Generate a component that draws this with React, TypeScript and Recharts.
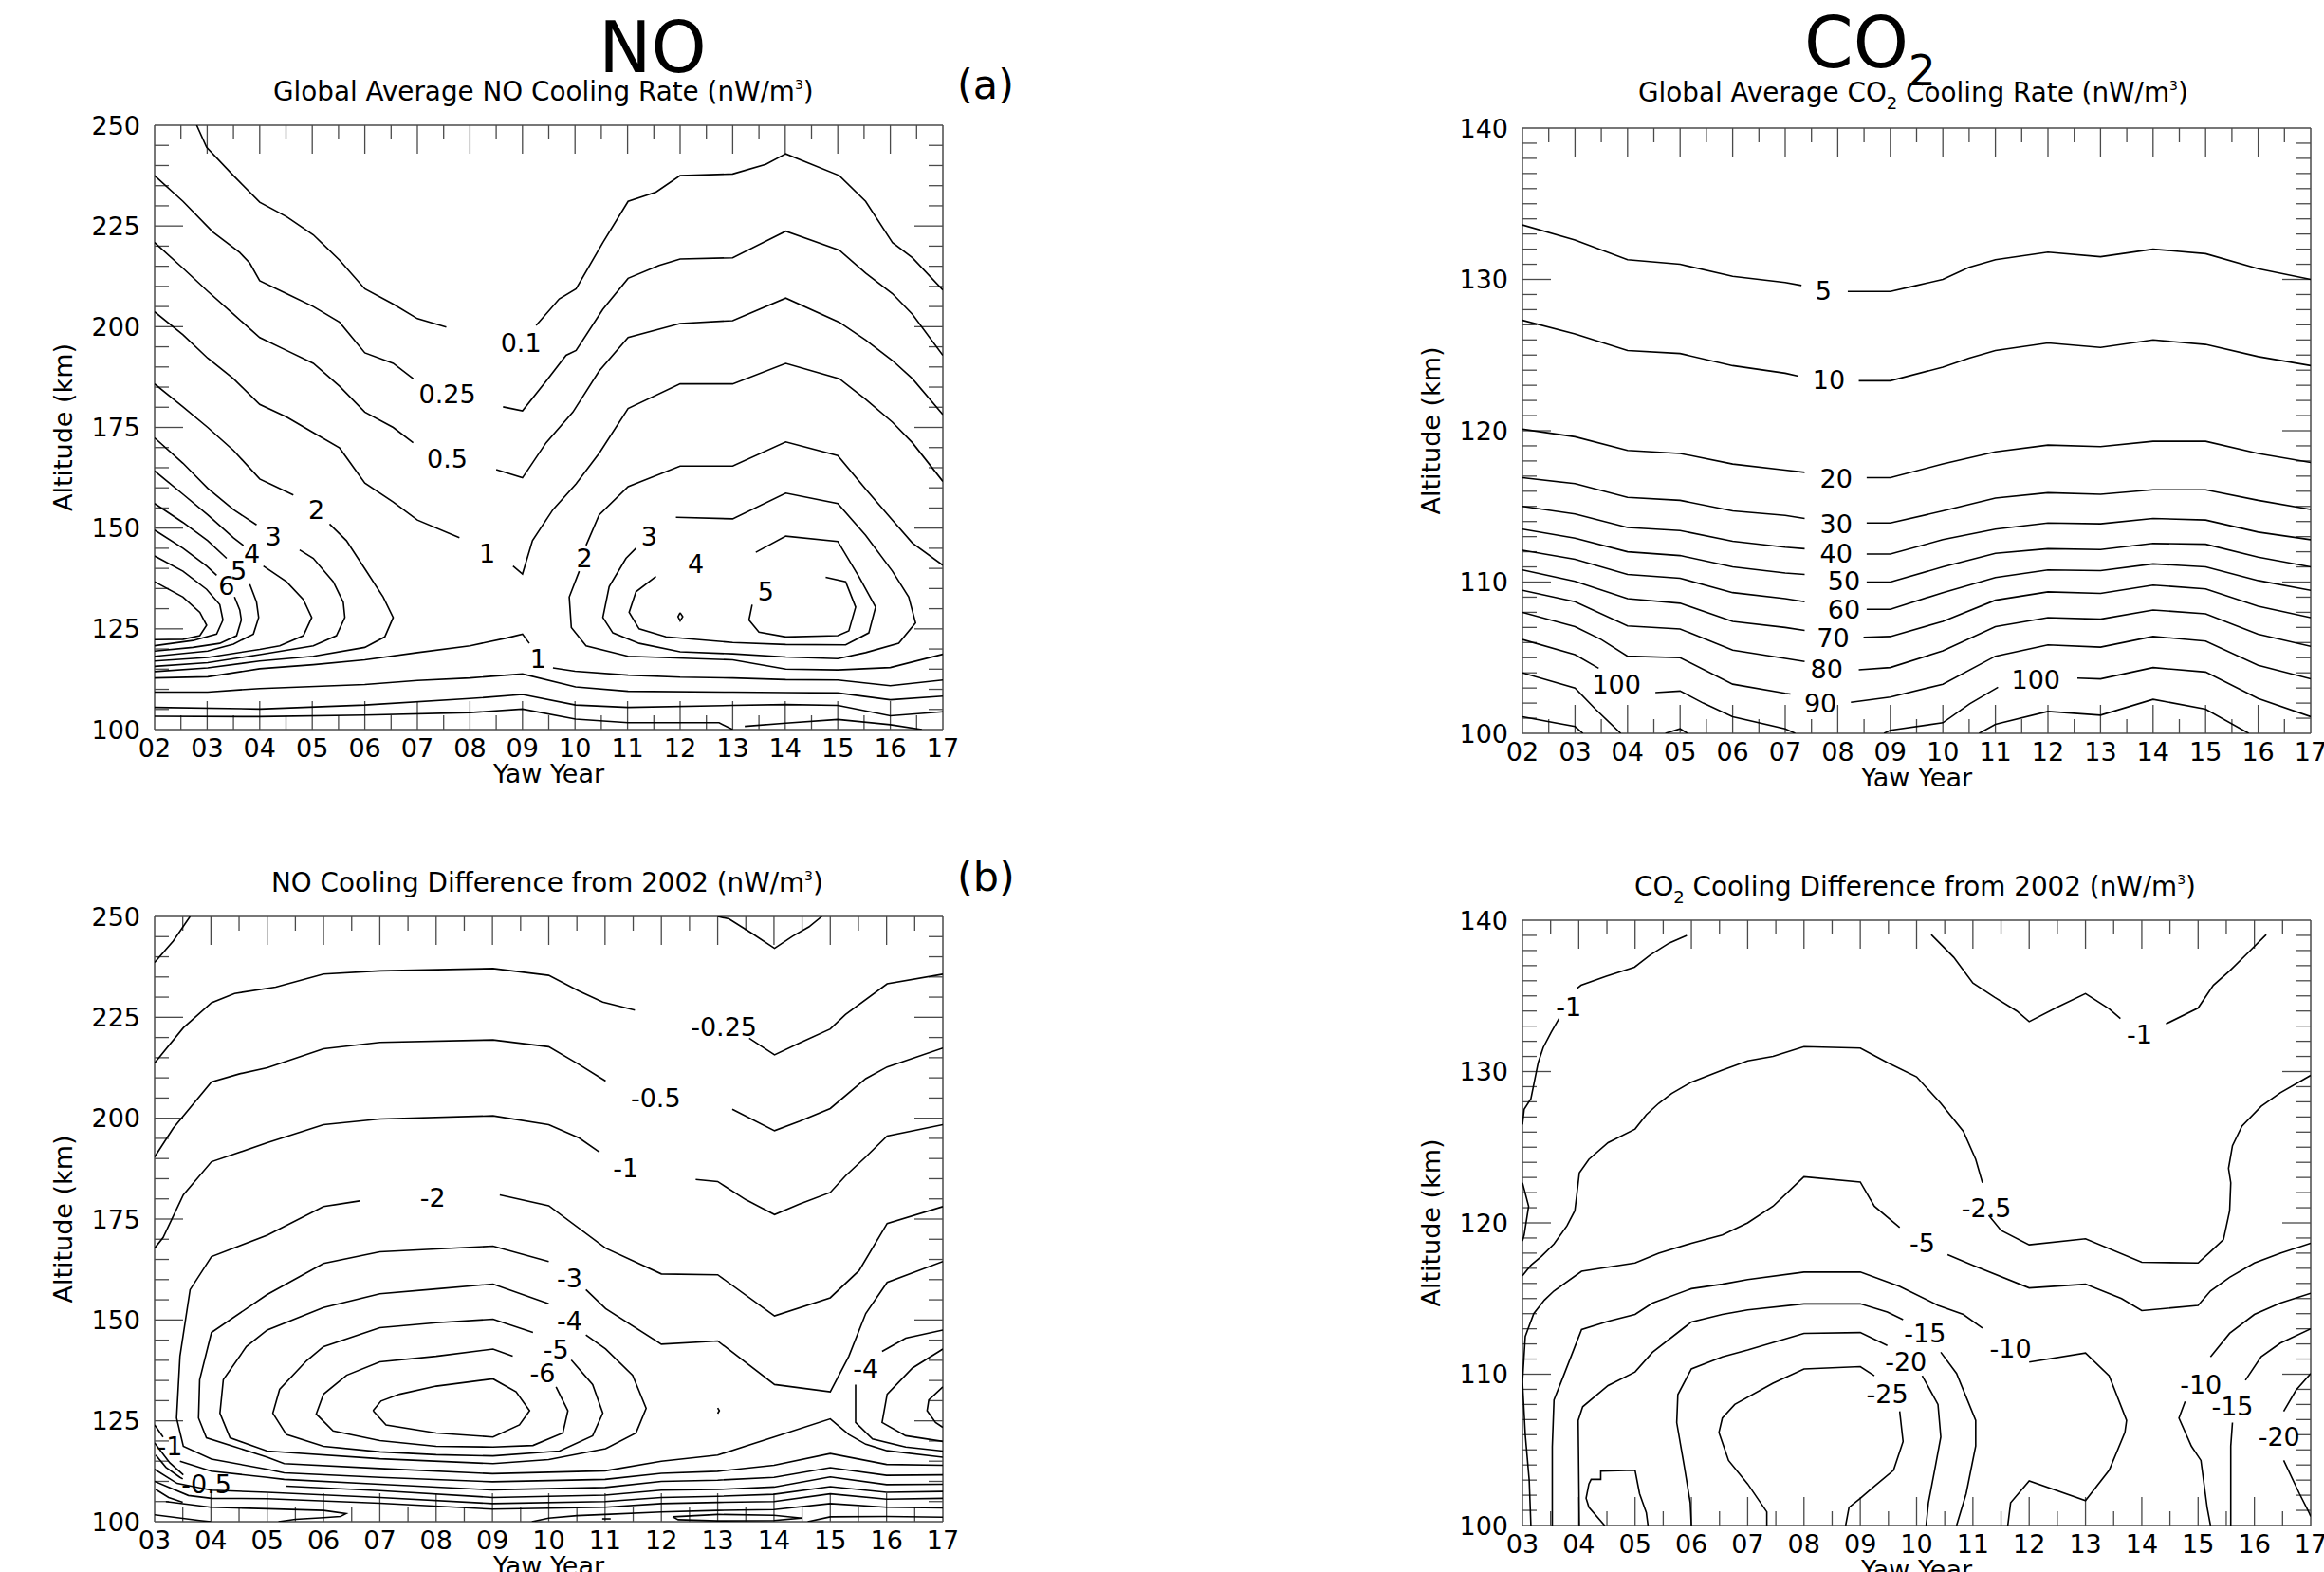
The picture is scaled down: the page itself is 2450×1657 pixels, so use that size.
import React from "react";
import { LineChart, Line, XAxis, YAxis, ReferenceLine, ReferenceDot } from "recharts";

type Pt = [number, number];
type Tag = [number, number, string];

// ---- (a) global average NO cooling rate: contour pieces [yaw year, km] ----
const noRate01W: Pt[] = [[2.8,250],[2.99,244.5],[3.5,237.5],[4,230.9],[4.51,227.3],[5.02,222.8],[5.52,216.5],[6,209.4],[6.54,205.6],[7,202],[7.55,199.9]];
const noRate01E: Pt[] = [[9.26,200.3],[9.7,206.9],[10.02,209.4],[10.53,220.9],[11.01,231.1],[11.54,233.4],[12,237.5],[13,237.9],[13.63,240.3],[14.01,242.9],[15.03,237.5],[15.53,231.1],[16.04,220.9],[16.42,217.1],[17,209.1]];
const noRate025W: Pt[] = [[2,237.5],[2.54,231.1],[3.11,223.5],[3.62,218.4],[3.81,215.8],[4,211.4],[4.51,208.2],[5.02,205],[5.52,201.1],[6,193.5],[6.54,190.9],[6.92,187.1]];
const noRate025E: Pt[] = [[8.63,180.1],[9,179.1],[9.45,186.5],[9.83,192.9],[10.02,194.1],[10.53,204.3],[11.01,212],[11.6,215.2],[12,216.8],[13,217.1],[14.01,223.7],[15.03,219],[15.53,213.3],[16.04,208.2],[16.42,203.1],[17,192.9]];
const noRate05W: Pt[] = [[2,220.9],[2.54,214.5],[3.01,208.8],[3.5,203.1],[4,197.3],[4.51,194.1],[5.02,190.9],[5.52,185.2],[6,178.8],[6.54,175],[6.92,171.2]];
const noRate05E: Pt[] = [[8.5,164.5],[9,162.5],[9.45,171.2],[9.96,178.8],[10.46,189],[11.01,197.3],[12,200.8],[13,201.5],[14.01,207.1],[15.03,201.1],[15.53,196.7],[16.04,191.6],[16.42,187.1],[17,178.2]];
const noRate1W: Pt[] = [[2,203.7],[2.54,198],[3.01,192.2],[3.5,187.1],[4,180.7],[4.51,177.6],[5.02,173.7],[5.52,169.9],[6,161.2],[6.54,156.5],[7,152],[7.8,147.6]];
const noRate1E: Pt[] = [[8.82,140.6],[9,138.6],[9.19,146.9],[9.58,154.6],[10.02,161],[10.46,168.6],[11.01,179.7],[12,185.8],[13,185.8],[14.01,190.9],[15.03,187.1],[15.53,182],[16.04,176.3],[16.42,171.2],[17,161.6]];
const noRate2WestTop: Pt[] = [[2,185.8],[2.54,180.1],[3.01,175],[3.5,169.3],[4,162.2],[4.64,158.2]];
const noRate2West: Pt[] = [[5.33,151],[5.65,146.9],[6,139.9],[6.35,132.9],[6.54,127.8],[6.38,123],[6,120.4],[5.02,118.2],[4,117],[3.01,115.3],[2,114.4]];
const noRate3WestTop: Pt[] = [[2,172.4],[2.54,166.1],[3.01,159.9],[3.5,154.6],[3.94,150.8]];
const noRate3West: Pt[] = [[4.76,144.6],[5.02,142.5],[5.4,136.7],[5.59,131.6],[5.62,127.8],[5.46,123.3],[5.02,120.8],[4,118.6],[3.01,116.6],[2,115.7]];
const noRate4WestTop: Pt[] = [[2,164.2],[2.54,158.4],[3.01,153.3],[3.5,147.6],[3.69,145.7]];
const noRate4West: Pt[] = [[4.07,140.6],[4.51,136.7],[4.83,132.3],[4.99,127.8],[4.83,123.3],[4.38,120.8],[4,119.9],[3.01,117.9],[2,117]];
const noRate5WestTop: Pt[] = [[2,156.1],[2.54,151.4],[3.01,146.9],[3.37,142.5]];
const noRate5West: Pt[] = [[3.81,136.1],[3.94,131.6],[3.98,127.8],[3.88,123.7],[3.5,121.2],[3.01,119.5],[2,118.2]];
const noRate6WestTop: Pt[] = [[2,149.5],[2.54,145],[2.99,140.6],[3.18,138.3]];
const noRate6West: Pt[] = [[3.52,132.9],[3.62,129.7],[3.65,127.2],[3.56,123.3],[3.24,121.4],[2.73,120.4],[2,119.5]];
const noRate7West: Pt[] = [[2,143.1],[2.54,139.3],[2.99,134.8],[3.24,131],[3.3,127.2],[3.18,123.7],[2.73,122.1],[2,120.8]];
const noRate8West: Pt[] = [[2,136.7],[2.54,132.9],[2.86,129.1],[2.99,125.9],[2.86,123.3],[2.54,122.4],[2,122.3]];
const noRate2EastTop: Pt[] = [[10.21,145.7],[10.46,153.3],[11.01,160.3],[12,165.4],[13,165.4],[14.01,171.4],[15,168],[15.53,159.7],[16.04,152],[16.42,146.3],[17,140.8]];
const noRate2East: Pt[] = [[10.08,139.3],[9.89,132.9],[9.93,125.3],[10.21,120.8],[11.01,118.2],[13,117.3],[14.01,115],[15,114.8],[16,115.4],[17,118.7]];
const noRate3East: Pt[] = [[11.92,152.7],[13,152.3],[14.01,158.7],[15,156.1],[15.53,148.2],[16.04,139.3],[16.35,132.9],[16.48,126.5],[16.16,121.4],[15.53,119.1],[15,117.6],[14.01,118],[13,118.8],[12,119.3],[11.22,121.4],[10.72,124],[10.53,127.8],[10.65,135.5],[10.97,142.5],[11.16,145]];
const noRate4East: Pt[] = [[13.44,144],[14.01,148],[15,146.7],[15.4,138],[15.72,130.4],[15.59,124],[15.15,121],[14.01,121.1],[13,121.6],[11.73,123],[11.22,125],[11.03,129.1],[11.16,134.2],[11.54,138]];
const noRate5East: Pt[] = [[14.77,137.8],[15.15,136.7],[15.34,130.4],[15.21,124.5],[15,123.3],[14.01,123],[13.5,124.2],[13.31,127.2],[13.37,131]];
const noRateSpeck: Pt[] = [[12,129],[12.05,128],[12,127],[11.96,128],[12,129]];
const noRate1SouthW: Pt[] = [[2,112.8],[3.01,113.1],[4,115.1],[5.02,116.1],[6,117.3],[7,119.1],[8,120.8],[8.69,122.7],[9,123.7],[9.13,121.4]];
const noRate1SouthE: Pt[] = [[9.58,115.3],[10,114.5],[11.01,113.5],[12,113],[13,112.8],[14.01,112.4],[15,112.3],[16,110.9],[17,112.3]];
const noRate05South: Pt[] = [[2,109.3],[3.01,109.3],[4,110.2],[6,111.2],[7,112.2],[8,112.8],[9,113.8],[10.01,110.6],[11.01,109.5],[13,109.3],[14.01,109.2],[15,109.1],[16,107.4],[17,108.3]];
const noRate025South: Pt[] = [[2,105.5],[4,105.1],[6,106.1],[8,107.7],[9,108.7],[10.01,106.1],[11.01,105.5],[13,106],[14.01,106.2],[15,106],[16,103.4],[17,104.4]];
const noRate01South: Pt[] = [[2,103.3],[4,103.2],[6,103.6],[8,104.2],[9,105.1],[10.01,102.6],[11.01,101.7],[12.74,101.7],[13,100]];
const noRate01Tongue: Pt[] = [[13.23,100.8],[14.01,101.6],[15,102.5],[16,101.2],[16.6,100]];
const noRateTags: Tag[] = [[8.97,196,"0.1"],[7.57,183.3,"0.25"],[7.57,167.3,"0.5"],[8.33,143.8,"1"],[9.3,117.6,"1"],[5.08,154.6,"2"],[4.26,148,"3"],[3.85,143.7,"4"],[3.6,139.5,"5"],[3.37,135.7,"6"],[10.18,142.5,"2"],[11.41,148,"3"],[12.3,141.2,"4"],[13.63,134.2,"5"]];

// ---- global average CO2 cooling rate ----
const co2Rate5W: Pt[] = [[2,133.6],[3,132.6],[4,131.3],[5,131],[6,130.2],[7,129.8],[7.31,129.6]];
const co2Rate5E: Pt[] = [[8.19,129.2],[9,129.2],[9.5,129.6],[10,130],[10.5,130.8],[11,131.3],[12,131.8],[13,131.5],[14,132],[15,131.7],[16,130.7],[17,130]];
const co2Rate10W: Pt[] = [[2,127.3],[3,126.4],[4,125.3],[5,125.1],[6,124.3],[7,123.8],[7.25,123.6]];
const co2Rate10E: Pt[] = [[8.4,123.3],[9,123.3],[10,124.2],[10.5,124.8],[11,125.3],[12,125.8],[13,125.5],[14,126],[15,125.7],[16,124.9],[17,124.3]];
const co2Rate20W: Pt[] = [[2,120.1],[3,119.6],[4,118.7],[5,118.5],[6,117.8],[7,117.4],[7.37,117.25]];
const co2Rate20E: Pt[] = [[8.55,116.9],[9,116.9],[10,117.8],[11,118.6],[12,119.05],[13,118.95],[14,119.3],[15,119.3],[16,118.5],[17,117.9]];
const co2Rate30W: Pt[] = [[2,116.9],[3,116.5],[4,115.6],[5,115.4],[6,114.7],[7,114.4],[7.37,114.2]];
const co2Rate30E: Pt[] = [[8.55,113.9],[9,113.9],[10,114.7],[11,115.55],[12,115.9],[13,115.8],[14,116.1],[15,116.1],[16,115.4],[17,114.8]];
const co2Rate40W: Pt[] = [[2,115],[3,114.5],[4,113.6],[5,113.4],[6,112.7],[7,112.3],[7.37,112.2]];
const co2Rate40E: Pt[] = [[8.55,111.85],[9,111.85],[10,112.8],[11,113.5],[12,113.9],[13,113.85],[14,114.2],[15,114.1],[16,113.3],[17,112.8]];
const co2Rate50W: Pt[] = [[2,113.5],[3,112.9],[4,112],[5,111.75],[6,111],[7,110.6],[7.37,110.5]];
const co2Rate50E: Pt[] = [[8.55,110],[9,110],[10,111],[11,111.9],[12,112.2],[13,112.15],[14,112.55],[15,112.5],[16,111.65],[17,111]];
const co2Rate60W: Pt[] = [[2,112.1],[3,111.5],[4,110.5],[5,110.25],[6,109.3],[7,108.9],[7.37,108.7]];
const co2Rate60E: Pt[] = [[8.55,108.2],[9,108.2],[10,109.3],[11,110.3],[12,110.8],[13,110.75],[14,111.2],[15,111],[16,110.1],[17,109.45]];
const co2Rate70W: Pt[] = [[2,110.8],[3,110.05],[4,108.9],[5,108.6],[6,107.4],[7,107],[7.37,106.8]];
const co2Rate70E: Pt[] = [[8.49,106.35],[9,106.4],[10,107.4],[11,108.8],[12,109.35],[13,109.25],[14,109.8],[15,109.55],[16,108.4],[17,107.65]];
const co2Rate80W: Pt[] = [[2,109.45],[3,108.7],[4,107.1],[5,106.9],[6,105.5],[7,104.95],[7.37,104.75]];
const co2Rate80E: Pt[] = [[8.4,104.2],[9,104.35],[10,105.45],[11,107.05],[12,107.65],[13,107.55],[14,108.15],[15,107.9],[16,106.55],[17,105.75]];
const co2Rate90W: Pt[] = [[2,108],[3,107.05],[3.5,106.2],[4,105.1],[5,105],[6,103.25],[7,102.65],[7.1,102.6]];
const co2Rate90E: Pt[] = [[8.25,102.05],[9,102.4],[10,103.25],[11,105.1],[12,105.85],[13,105.7],[14,106.4],[15,106.1],[16,104.5],[17,103.6]];
const co2Rate100W: Pt[] = [[2,106.2],[3,105.2],[3.45,104.3]];
const co2Rate100W2: Pt[] = [[4.53,102.7],[5,102.8],[5.44,102],[6,101.1],[7,100.3],[7.19,100]];
const co2Rate100Mid: Pt[] = [[8.88,100],[9,100.2],[10,100.7],[10.51,101.95],[11.05,103.05]];
const co2Rate100E: Pt[] = [[12.56,103.65],[13,103.6],[14,104.35],[15,104.05],[16,102.3],[17,101.1]];
const co2Rate110W: Pt[] = [[2,104],[3,103],[3.39,101.6],[3.87,100]];
const co2Rate110E: Pt[] = [[10.69,100],[11,100.6],[12,101.45],[13,101.2],[14,102.25],[15,101.6],[15.82,100]];
const co2Rate120W: Pt[] = [[2,101.1],[3,100.45],[3.15,100]];
const co2RateBump: Pt[] = [[4.72,100],[5,100.3],[5.14,100]];
const co2RateTags: Tag[] = [[7.73,129.25,"5"],[7.83,123.35,"10"],[7.97,116.85,"20"],[7.97,113.85,"30"],[7.97,111.9,"40"],[8.12,110.05,"50"],[8.12,108.2,"60"],[7.91,106.3,"70"],[7.79,104.25,"80"],[7.67,101.95,"90"],[3.79,103.25,"100"],[11.77,103.55,"100"]];

// ---- (b) NO cooling difference from 2002 ----
const noDiffCornerNW: Pt[] = [[3,238.6],[3.33,243.9],[3.63,250]];
const noDiffDipTop: Pt[] = [[13,250],[13.2,249.4],[13.62,245.7],[14.01,242.1],[14.33,245.1],[14.62,247.4],[14.85,250]];
const noDiff025W: Pt[] = [[3,213.7],[3.51,222.4],[4.01,228.6],[4.42,230.9],[5.15,232.5],[6,235.7],[7,236.5],[9.01,237.1],[10,235.4],[10.54,231.5],[10.96,228.8],[11.53,226.8]];
const noDiff025E: Pt[] = [[13.56,219.8],[14.01,215.7],[14.45,218.6],[15,222.1],[15.27,225.7],[16.01,233.3],[17,235.7]];
const noDiff05W: Pt[] = [[3,190.4],[3.33,197.5],[4.01,209],[4.51,211],[5,212.5],[6,217.2],[7,218.8],[9.01,219.4],[10,217.7],[10.54,213.3],[11.01,209.2]];
const noDiff05E: Pt[] = [[13.26,202.2],[14.01,196.9],[14.45,199.2],[15,202.4],[15.63,209.8],[16.01,212.7],[17,217.4]];
const noDiff1W: Pt[] = [[3,167.8],[3.15,170.4],[3.51,181],[4.01,189.2],[5,193.9],[6,198.4],[7,199.8],[9.01,200.6],[10,198.4],[10.54,195.1],[10.9,191.6]];
const noDiff1E: Pt[] = [[12.61,184.8],[13,184.3],[13.5,179.8],[14.01,176.1],[14.45,178.7],[15,181.6],[15.27,185.7],[15.63,190.4],[16.01,195.6],[17,198.4]];
const noDiff2W: Pt[] = [[17,114],[16,114.2],[15,116.9],[14,114],[13,112.5],[12,112],[11,110.5],[9,109.9],[7,111],[5.3,112.1],[5,113],[4.01,115.5],[3.51,118.7],[3.39,125.7],[3.45,141],[3.63,157.5],[4.01,165.7],[5,171],[6,178.1],[6.64,179.5]];
const noDiff2E: Pt[] = [[9.13,181],[10,178.3],[11.01,167.8],[12,161.4],[13,161.2],[14.01,151],[15,155.5],[15.51,162.2],[16.01,173.9],[17,178.1]];
const noDiff3E: Pt[] = [[17,164.5],[16.01,159.3],[15.63,151.6],[15.33,141],[15,132.2],[14.01,134],[13,144.8],[12,144],[11.01,152.8],[10.66,157.5]];
const noDiff3W: Pt[] = [[10,164.5],[9.01,168.3],[7,166.9],[6,164],[5,156.3],[4.01,146.9],[3.8,135.2],[3.78,125.7],[3.92,120.8],[5,116],[5.3,114.4],[7,113.2],[9,111.9],[11,112.6],[12,115],[13,116.5],[14,121],[15,125.5],[15.33,121.6],[15.63,119.2],[16.01,117.6],[17,116]];
const noDiff4: Pt[] = [[10.66,146.3],[11.01,142.8],[11.49,136.3],[11.73,128.1],[11.55,122],[11.01,118.1],[10,115.4],[9.01,114.4],[7,115.6],[5,117.5],[4.34,120.8],[4.16,126.9],[4.22,135.2],[4.63,143.4],[5,147.5],[6,153.1],[7,156.5],[8,157.7],[9.01,158.9],[10,154]];
const noDiff5: Pt[] = [[10.4,140.1],[10.78,134],[10.96,126.9],[10.78,121.3],[10.19,117.5],[9.01,116.3],[8,116.6],[7,117.3],[6,118.7],[5.34,121.6],[5.1,126.9],[5.22,132.8],[5.7,139.9],[6,143.4],[7,148.1],[8,149.3],[9.01,150.2],[9.72,146.9]];
const noDiff6: Pt[] = [[10.13,133.4],[10.34,127.5],[10.25,122],[9.72,118.9],[9.01,118.5],[8,118.7],[7,120.1],[6.17,122.5],[5.87,126.7],[6,131.6],[6.41,136.3],[7,139.6],[8,141],[9.01,142.8],[9.36,141]];
const noDiff7: Pt[] = [[6.88,127.5],[7.02,129.9],[7.35,131.6],[8,133.6],[9.01,135.4],[9.42,132.2],[9.66,127.5],[9.48,124],[9.01,121],[8,122],[7.11,124],[6.88,127.5]];
const noDiffSpeck: Pt[] = [[13,128.2],[13.03,127.5],[13,126.8]];
const noDiff4EastA: Pt[] = [[17,147.5],[16.34,145.5],[15.92,142.2]];
const noDiff4EastB: Pt[] = [[15.45,134],[15.45,124.6],[15.75,120.5],[16.34,118.5],[17,117.5]];
const noDiff5East: Pt[] = [[17,142.8],[16.46,138.1],[16.01,131.6],[15.92,124.6],[16.34,121.3],[17,119.9]];
const noDiff6East: Pt[] = [[17,133.4],[16.75,130.2],[16.72,127.5],[16.87,124.6],[17,123.4]];
const noDiff1SouthW: Pt[] = [[3,124],[3.15,121]];
const noDiff1South: Pt[] = [[3.45,115],[4.01,112.5],[5,111],[5.3,110.5],[7,109.3],[9,107.9],[11,108.5],[12,110],[13,110.3],[14,111],[15,113.4],[16,111.5],[17,111.6]];
const noDiff05SouthW: Pt[] = [[3,119.5],[3.27,114.6],[3.51,111.6]];
const noDiff05South: Pt[] = [[5.34,108.8],[7,107.7],[9,106],[11,106.6],[12,107.8],[13,108],[14,108.6],[15,111.1],[16,109.2],[17,109.3]];
const noDiff025South: Pt[] = [[3,113],[3.4,109.5],[4.01,107.8],[5,107.3],[7,106],[9,104.5],[11,105],[12,106],[13,106.3],[14,106.8],[15,108.7],[16,107.3],[17,107.5]];
const noDiffLow1: Pt[] = [[3,110],[3.6,106.5],[4.01,105.8],[5,105.7],[7,104.6],[9,103.1],[11,103.6],[12,104.5],[13,104.8],[14,105],[15,106.9],[16,105.6],[17,105.8]];
const noDiffLow2W: Pt[] = [[3.2,105],[4,103.6],[5,103.2],[6,102.8],[6.4,102],[6.3,101.3],[6,101],[5.5,100.6],[5.2,100]];
const noDiffLow2E: Pt[] = [[9.7,100],[10,100.9],[10.5,101.5],[11,101.8],[12,102.4],[13,102.8],[14,103],[15,104.5],[16,103.6],[17,103.4]];
const noDiffLow3W: Pt[] = [[3,101.7],[3.8,100.3],[4,100]];
const noDiffLow3E: Pt[] = [[14.6,100],[15,101.2],[16,101.3],[17,101.1]];
const noDiffLoop13: Pt[] = [[12.2,101.2],[13,101.8],[14,101.6],[14.5,100.9],[14,100.3],[13,100.2],[12.3,100.5],[12.2,101.2]];
const noDiffDash: Pt[] = [[10.95,100.7],[11.1,100.7]];
const noDiffJagA: Pt[] = [[3.02,116.5],[3.2,113.5],[3.45,111],[3.5,110.6]];
const noDiffJagB: Pt[] = [[3.02,108],[3.25,106],[3.5,104.8]];
const noDiffTags: Tag[] = [[13.11,222.7,"-0.25"],[11.9,205.1,"-0.5"],[11.37,187.5,"-1"],[7.94,180.2,"-2"],[10.37,160.4,"-3"],[10.37,149.8,"-4"],[10.13,142.8,"-5"],[9.89,136.9,"-6"],[15.63,138.1,"-4"],[3.27,118.7,"-1"],[3.92,109.3,"-0.5"]];

// ---- CO2 cooling difference from 2002 ----
const co2Diff1W: Pt[] = [[3,126.5],[3.03,127.5],[3.15,128.2],[3.28,130.6],[3.37,131.6],[3.51,132.6],[3.65,133.5]];
const co2Diff1W2: Pt[] = [[3.97,135.5],[4.04,135.7],[4.49,136.3],[4.99,136.9],[5.27,137.7],[5.61,138.5],[5.92,139]];
const co2Diff1E: Pt[] = [[10.26,139.05],[10.66,137.55],[11,135.85],[11.39,134.9],[11.78,134],[12,133.3],[12.52,134.3],[13,135.15],[13.42,134.15],[13.62,133.5]];
const co2Diff1E2: Pt[] = [[14.43,133.15],[15,134.2],[15.27,135.7],[15.56,136.65],[15.9,137.9],[16.21,139.05]];
const co2Diff2p5W: Pt[] = [[3,116.5],[3.15,117.2],[3.34,117.8],[3.56,118.6],[3.79,119.8],[3.93,120.8],[3.96,121.7],[4.01,123.3],[4.18,124.2],[4.52,125.3],[5,126.2],[5.2,127.15],[5.42,127.9],[5.65,128.55],[6,129.3],[6.55,130.1],[7,130.7],[7.45,131],[8,131.65],[9,131.55],[9.48,130.6],[10,129.65],[10.43,127.9],[10.83,126.05],[11.05,124.2],[11.17,122.65]];
const co2Diff2p5E: Pt[] = [[11.28,120.5],[11.5,119.5],[12,118.55],[13,118.95],[14,117.4],[15,117.35],[15.22,118.1],[15.45,118.9],[15.56,120.8],[15.58,122.65],[15.54,123.6],[15.61,125.1],[15.78,126.4],[16.12,127.7],[16.46,128.6],[17,129.75]];
const co2Diff2p5Bulge: Pt[] = [[3,122.65],[3.11,121.1],[3.03,119.2],[3,118.8]];
const co2Diff5W: Pt[] = [[3.15,100],[3.12,103],[3.05,106],[3,109.5],[3.05,112.5],[3.2,114],[3.39,114.9],[3.56,115.5],[4.05,116.8],[5,117.35],[5.42,118],[6,118.65],[6.55,119.2],[7,120],[7.45,121.1],[8,123.05],[9,122.7],[9.25,121.1],[9.7,119.7]];
const co2Diff5E: Pt[] = [[10.55,117.9],[11,117.2],[12,115.7],[13,115.95],[13.64,115],[14,114.2],[15,114.55],[15.22,115.5],[15.56,116.4],[16,117.35],[16.46,118],[17,118.65]];
const co2Diff10W: Pt[] = [[3.53,100],[3.53,105.2],[3.56,108.3],[3.73,109.9],[4.05,112.95],[4.52,113.5],[5,113.95],[5.31,114.7],[6,115.65],[6.55,115.95],[7,116.25],[8,116.75],[9,116.75],[9.7,115.8],[10.38,114.55],[10.83,113.95],[11.17,113.05]];
const co2Diff10Mid: Pt[] = [[12,110.8],[13,111.4],[13.42,109.9],[13.73,106.95],[13.7,106.15],[13.42,103.65],[13,101.65],[12,102.95],[11.67,101.5],[11.62,100]];
const co2Diff10E: Pt[] = [[17,115.35],[16.46,114.7],[16,113.95],[15.56,112.7],[15.22,111.15]];
const co2Diff10E2: Pt[] = [[14.77,108.2],[14.66,107.1],[14.88,105.25],[15.05,104.3],[15.16,101.2],[15.22,100]];
const co2Diff15W: Pt[] = [[4.01,100],[3.99,106.95],[4.07,107.85],[4.52,109.25],[5,110.15],[5.31,111.45],[6,113.45],[6.55,113.95],[7,114.25],[8,114.65],[9,114.65],[9.48,114.1],[9.76,113.6]];
const co2Diff15Mid: Pt[] = [[10.43,111.45],[10.71,110.05],[11.05,106.95],[11.05,105.25],[10.88,102.1],[10.71,100]];
const co2Diff15E: Pt[] = [[17,113],[16.46,112.05],[16.12,111.15],[15.84,109.6]];
const co2Diff15E2: Pt[] = [[15.61,106.8],[15.58,105.25],[15.58,102.1],[15.58,100]];
const co2Diff20W: Pt[] = [[6,100],[5.98,101.5],[5.87,104],[5.74,106.8],[5.76,108.65],[6,110.35],[6.55,111.15],[7,111.6],[8,112.7],[9,112.75],[9.48,111.9]];
const co2Diff20Mid: Pt[] = [[10.1,109.9],[10.38,108],[10.43,105.85],[10.32,103.65],[10.21,101.5],[10.17,100]];
const co2Diff20E: Pt[] = [[17,110.05],[16.74,108.95],[16.52,107.55]];
const co2Diff20E2: Pt[] = [[16.52,104.3],[16.8,102.1],[16.97,100.85],[17,100.6]];
const co2Diff25W: Pt[] = [[7.34,100],[7.34,100.9],[7,102.75],[6.66,104.3],[6.49,106.15],[6.55,107.1],[6.77,108],[7.45,109.4],[8,110.35],[9,110.5],[9.25,109.9]];
const co2Diff25E: Pt[] = [[9.7,107.55],[9.76,105.55],[9.59,103.65],[9.25,102.6],[9,101.8],[8.8,101.2],[8.74,100]];
const co2DiffNotch: Pt[] = [[4.46,100],[4.18,101.2],[4.13,101.8],[4.18,102.75],[4.22,103.05],[4.39,103.05],[4.39,103.6],[5,103.65],[5.08,102.1],[5.2,100.85],[5.23,100]];
const co2DiffTags: Tag[] = [[3.82,134.3,"-1"],[13.96,132.45,"-1"],[11.24,121,"-2.5"],[10.1,118.65,"-5"],[11.67,111.7,"-10"],[10.15,112.7,"-15"],[9.81,110.8,"-20"],[9.48,108.7,"-25"],[15.05,109.3,"-10"],[15.61,107.9,"-15"],[16.44,105.85,"-20"]];

// ---- axes ----
const yearsFrom02 = [2,3,4,5,6,7,8,9,10,11,12,13,14,15,16,17];
const yearsFrom03 = [3,4,5,6,7,8,9,10,11,12,13,14,15,16,17];
const altNO = [100,125,150,175,200,225,250];
const altCO2 = [100,110,120,130,140];

const FONT = "'DejaVu Sans', Verdana, sans-serif";
const AXIS = "#4a4a4a";

const yy = (v: number) => String(v).padStart(2, "0");

interface PanelProps {
  left: number; top: number; w: number; h: number;
  xTicks: number[]; yTicks: number[]; yStep: number;
  lines: Pt[][]; tags: Tag[];
}

function Panel({ left, top, w, h, xTicks, yTicks, yStep, lines, tags }: PanelProps) {
  const YW = 193, MT = 20, MR = 20, XH = 90;
  const x0 = xTicks[0], x1 = xTicks[xTicks.length - 1];
  const y0 = yTicks[0], y1 = yTicks[yTicks.length - 1];
  const kx = (x1 - x0) / w;
  const ky = (y1 - y0) / h;
  const xMinor = xTicks.slice(1).map((t, i) => (t + xTicks[i]) / 2);
  const yMinor: number[] = [];
  for (let v = y0 + yStep; v < y1 - 1e-6; v += yStep) {
    if (!yTicks.some((t) => Math.abs(t - v) < 1e-6)) yMinor.push(+v.toFixed(3));
  }
  // inward tick marks on all four sides
  const segs: [Pt, Pt][] = [];
  const vert = (xs: number[], len: number) =>
    xs.forEach((t) => {
      segs.push([[t, y0], [t, y0 + len * ky]], [[t, y1], [t, y1 - len * ky]]);
    });
  const horz = (ys: number[], len: number) =>
    ys.forEach((t) => {
      segs.push([[x0, t], [x0 + len * kx, t]], [[x1, t], [x1 - len * kx, t]]);
    });
  vert(xTicks.slice(1, -1), 30);
  vert(xMinor, 15);
  horz(yTicks.slice(1, -1), 30);
  horz(yMinor, 15);

  return (
    <div style={{ position: "absolute", left: left - YW, top: top - MT }}>
      <LineChart width={YW + w + MR} height={MT + h + XH} margin={{ top: MT, right: MR, bottom: 0, left: 0 }}>
        <XAxis
          type="number"
          dataKey="x"
          domain={[x0, x1]}
          ticks={xTicks}
          interval={0}
          allowDataOverflow
          tickFormatter={yy}
          tickLine={false}
          axisLine={false}
          tickSize={0}
          tickMargin={10}
          height={XH}
          tick={{ fontSize: 27, fill: "#000" }}
          label={{ value: "Yaw Year", position: "insideBottom", offset: 34, fontSize: 27, fill: "#000" }}
        />
        <YAxis
          type="number"
          domain={[y0, y1]}
          ticks={yTicks}
          interval={0}
          allowDataOverflow
          tickLine={false}
          axisLine={false}
          tickSize={0}
          tickMargin={15}
          width={YW}
          tick={{ fontSize: 27, fill: "#000" }}
          label={{ value: "Altitude (km)", angle: -90, position: "center", fontSize: 27, fill: "#000" }}
        />
        {segs.map(([a, b], i) => (
          <ReferenceLine
            key={"t" + i}
            segment={[{ x: a[0], y: a[1] }, { x: b[0], y: b[1] }]}
            stroke={AXIS}
            strokeWidth={1.3}
          />
        ))}
        <ReferenceLine x={x0} stroke={AXIS} strokeWidth={1.5} />
        <ReferenceLine x={x1} stroke={AXIS} strokeWidth={1.5} />
        <ReferenceLine y={y0} stroke={AXIS} strokeWidth={1.5} />
        <ReferenceLine y={y1} stroke={AXIS} strokeWidth={1.5} />
        {lines.map((s, i) => (
          <Line
            key={"c" + i}
            data={s.map(([x, y]) => ({ x, y }))}
            dataKey="y"
            type="linear"
            stroke="#000"
            strokeWidth={1.6}
            dot={false}
            activeDot={false}
            legendType="none"
            isAnimationActive={false}
          />
        ))}
        {tags.map(([x, y, t], i) => (
          <ReferenceDot
            key={"l" + i}
            x={x}
            y={y}
            r={1}
            fill="none"
            stroke="none"
            label={{ value: t, position: "center", fontSize: 27, fill: "#000" }}
          />
        ))}
      </LineChart>
    </div>
  );
}

const txt = (extra: React.CSSProperties): React.CSSProperties => ({
  position: "absolute",
  lineHeight: 1,
  whiteSpace: "nowrap",
  color: "#000",
  ...extra,
});

const sup3 = <span style={{ fontSize: 14, position: "relative", top: -12 }}>3</span>;
const sub2 = <span style={{ fontSize: 18, position: "relative", top: 8 }}>2</span>;

export default function App() {
  return (
    <div style={{ position: "absolute", left: 0, top: 0, width: 2450, height: 1657, overflow: "hidden", background: "#fff", fontFamily: FONT }}>
      <Panel
        left={163} top={132} w={831} h={637}
        xTicks={yearsFrom02} yTicks={altNO} yStep={5}
        lines={[noRate01W, noRate01E, noRate025W, noRate025E, noRate05W, noRate05E, noRate1W, noRate1E,
          noRate2WestTop, noRate2West, noRate3WestTop, noRate3West, noRate4WestTop, noRate4West,
          noRate5WestTop, noRate5West, noRate6WestTop, noRate6West, noRate7West, noRate8West,
          noRate2EastTop, noRate2East, noRate3East, noRate4East, noRate5East, noRateSpeck,
          noRate1SouthW, noRate1SouthE, noRate05South, noRate025South, noRate01South, noRate01Tongue]}
        tags={noRateTags}
      />
      <Panel
        left={1605} top={135} w={831} h={638}
        xTicks={yearsFrom02} yTicks={altCO2} yStep={1}
        lines={[co2Rate5W, co2Rate5E, co2Rate10W, co2Rate10E, co2Rate20W, co2Rate20E, co2Rate30W, co2Rate30E,
          co2Rate40W, co2Rate40E, co2Rate50W, co2Rate50E, co2Rate60W, co2Rate60E, co2Rate70W, co2Rate70E,
          co2Rate80W, co2Rate80E, co2Rate90W, co2Rate90E, co2Rate100W, co2Rate100W2, co2Rate100Mid, co2Rate100E,
          co2Rate110W, co2Rate110E, co2Rate120W, co2RateBump]}
        tags={co2RateTags}
      />
      <Panel
        left={163} top={966} w={831} h={638}
        xTicks={yearsFrom03} yTicks={altNO} yStep={5}
        lines={[noDiffCornerNW, noDiffDipTop, noDiff025W, noDiff025E, noDiff05W, noDiff05E, noDiff1W, noDiff1E,
          noDiff2W, noDiff2E, noDiff3E, noDiff3W, noDiff4, noDiff5, noDiff6, noDiff7, noDiffSpeck,
          noDiff4EastA, noDiff4EastB, noDiff5East, noDiff6East, noDiff1SouthW, noDiff1South,
          noDiff05SouthW, noDiff05South, noDiff025South, noDiffLow1, noDiffLow2W, noDiffLow2E,
          noDiffLow3W, noDiffLow3E, noDiffLoop13, noDiffDash, noDiffJagA, noDiffJagB]}
        tags={noDiffTags}
      />
      <Panel
        left={1605} top={970} w={831} h={638}
        xTicks={yearsFrom03} yTicks={altCO2} yStep={1}
        lines={[co2Diff1W, co2Diff1W2, co2Diff1E, co2Diff1E2, co2Diff2p5W, co2Diff2p5E, co2Diff2p5Bulge,
          co2Diff5W, co2Diff5E, co2Diff10W, co2Diff10Mid, co2Diff10E, co2Diff10E2, co2Diff15W, co2Diff15Mid,
          co2Diff15E, co2Diff15E2, co2Diff20W, co2Diff20Mid, co2Diff20E, co2Diff20E2, co2Diff25W, co2Diff25E,
          co2DiffNotch]}
        tags={co2DiffTags}
      />

      <div style={txt({ left: 688, top: 13, fontSize: 74, transform: "translateX(-50%)" })}>NO</div>
      <div style={txt({ left: 1902, top: 8, fontSize: 74 })}>
        CO<span style={{ fontSize: 45, position: "relative", top: 19 }}>2</span>
      </div>
      <div style={txt({ left: 1009, top: 68, fontSize: 43 })}>(a)</div>
      <div style={txt({ left: 1009, top: 903, fontSize: 43 })}>(b)</div>

      <div style={txt({ left: 288, top: 82.5, fontSize: 27.8 })}>Global Average NO Cooling Rate (nW/m{sup3})</div>
      <div style={txt({ left: 1727, top: 83.5, fontSize: 27.8 })}>Global Average CO{sub2} Cooling Rate (nW/m{sup3})</div>
      <div style={txt({ left: 286, top: 916.5, fontSize: 27.8 })}>NO Cooling Difference from 2002 (nW/m{sup3})</div>
      <div style={txt({ left: 1723, top: 920.5, fontSize: 27.8 })}>CO{sub2} Cooling Difference from 2002 (nW/m{sup3})</div>
    </div>
  );
}
